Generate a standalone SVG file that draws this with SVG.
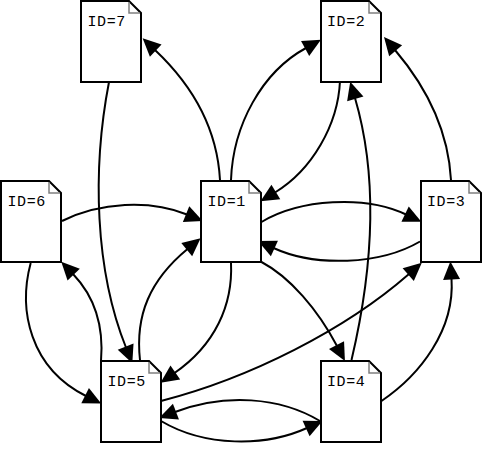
<svg xmlns="http://www.w3.org/2000/svg" width="482" height="458" viewBox="0 0 482 458">
<style>
.e{fill:none;stroke:#000;stroke-width:2;marker-end:url(#a)}
.b{fill:#fff;stroke:#000;stroke-width:2}
.f{fill:none;stroke:#808080;stroke-width:1.5}
text{font-family:"Liberation Mono","Courier New",monospace;font-size:15px;letter-spacing:.6px;fill:#000}
</style>
<defs>
<marker id="a" markerUnits="userSpaceOnUse" markerWidth="20" markerHeight="18" refX="0" refY="8.500" orient="auto" overflow="visible"><path d="M-1,0L17,8.500L-1,17z" fill="#000"/></marker>
<g id="doc"><path class="b" d="M1,1H49L61,13V82H1z"/><path class="f" d="M49,2V13H60"/></g>
</defs>
<rect width="482" height="458" fill="#fff"/>
<g id="connectors">
<path class="e" d="M109,82C92,170 95,270 126,347.5"/>
<path class="e" d="M220,180C217,125 190,83 155,50"/>
<path class="e" d="M231,180C233,125 262,72 306,48"/>
<path class="e" d="M340,81C338,125 312,170 275,192.5"/>
<path class="e" d="M451,180C448,125 423,83 395,50"/>
<path class="e" d="M351.500,360C368,290 382,190 355,98"/>
<path class="e" d="M261.500,222C300,199 365,195 406,214.500"/>
<path class="e" d="M420,241.500C380,265 315,267 273.500,248"/>
<path class="e" d="M62,221C100,202 150,199.500 187,214.500"/>
<path class="e" d="M231,263C233,305 215,345 174.500,373"/>
<path class="e" d="M261.500,262C290,277 318,310 337,346"/>
<path class="e" d="M140,360C135,315 150,280 187.500,249"/>
<path class="e" d="M101,361C104,325 95,297 73,274"/>
<path class="e" d="M30.700,263C18,310 30,368 86,396"/>
<path class="e" d="M161,401C250,378 345,330 409,274"/>
<path class="e" d="M320,421C280,397 225,393 175,412"/>
<path class="e" d="M161,421C205,447 265,447 307,428"/>
<path class="e" d="M381.500,401C420,375 455,330 451.500,278.500"/>
</g>
<g id="n7"><use href="#doc" x="80" y="0"/><text x="87.500" y="25.500">ID=7</text></g>
<g id="n2"><use href="#doc" x="320" y="0"/><text x="327" y="25.500">ID=2</text></g>
<g id="n6"><use href="#doc" x="0" y="180"/><text x="7.500" y="205.500">ID=6</text></g>
<g id="n1"><use href="#doc" x="200" y="180"/><text x="207.500" y="205.500">ID=1</text></g>
<g id="n3"><use href="#doc" x="420" y="180"/><text x="427" y="205.500">ID=3</text></g>
<g id="n5"><use href="#doc" x="100" y="360"/><text x="107.500" y="385.500">ID=5</text></g>
<g id="n4"><use href="#doc" x="320" y="360"/><text x="327" y="385.500">ID=4</text></g>
</svg>
